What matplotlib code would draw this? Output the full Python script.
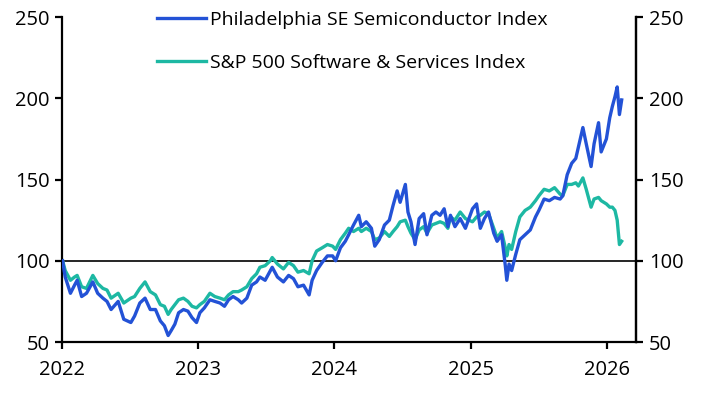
import pandas as pd
import matplotlib.pyplot as plt
import matplotlib.dates as mdates

# rebased index levels (first day of 2022 = 100)
dates = [
    "2022-01-03", "2022-01-10", "2022-01-24", "2022-02-04", "2022-02-11", "2022-02-23",
    "2022-03-08", "2022-03-25", "2022-04-07", "2022-04-21", "2022-05-02", "2022-05-13",
    "2022-06-01", "2022-06-16", "2022-07-05", "2022-07-15", "2022-07-29", "2022-08-12",
    "2022-08-26", "2022-09-09", "2022-09-22", "2022-10-03", "2022-10-13", "2022-10-21",
    "2022-10-31", "2022-11-10", "2022-11-23", "2022-12-05", "2022-12-16", "2022-12-28",
    "2023-01-06", "2023-01-18", "2023-02-02", "2023-02-15", "2023-03-01", "2023-03-13",
    "2023-03-24", "2023-04-05", "2023-04-19", "2023-04-28", "2023-05-12", "2023-05-25",
    "2023-06-07", "2023-06-16", "2023-06-30", "2023-07-14", "2023-07-19", "2023-08-02",
    "2023-08-18", "2023-09-01", "2023-09-14", "2023-09-26", "2023-10-11", "2023-10-26",
    "2023-11-03", "2023-11-15", "2023-11-30", "2023-12-14", "2023-12-28", "2024-01-05",
    "2024-01-18", "2024-01-31", "2024-02-09", "2024-02-22", "2024-03-07", "2024-03-14",
    "2024-03-27", "2024-04-10", "2024-04-19", "2024-05-01", "2024-05-15", "2024-05-28",
    "2024-06-07", "2024-06-18", "2024-06-26", "2024-07-10", "2024-07-17", "2024-07-25",
    "2024-08-05", "2024-08-16", "2024-08-28", "2024-09-06", "2024-09-19", "2024-09-30",
    "2024-10-11", "2024-10-22", "2024-11-01", "2024-11-08", "2024-11-20", "2024-12-04",
    "2024-12-18", "2025-01-06", "2025-01-17", "2025-01-27", "2025-02-07", "2025-02-18",
    "2025-03-04", "2025-03-13", "2025-03-25", "2025-04-04", "2025-04-08", "2025-04-14",
    "2025-04-21", "2025-05-02", "2025-05-13", "2025-05-27", "2025-06-10", "2025-06-24",
    "2025-07-03", "2025-07-17", "2025-07-31", "2025-08-14", "2025-08-29", "2025-09-05",
    "2025-09-17", "2025-09-29", "2025-10-10", "2025-10-17", "2025-10-29", "2025-11-07",
    "2025-11-20", "2025-11-28", "2025-12-10", "2025-12-17", "2025-12-31", "2026-01-09",
    "2026-01-16", "2026-01-23", "2026-01-29", "2026-02-04", "2026-02-10",
]

semis = [
    100, 90, 80, 85, 88, 78,
    80, 87, 80, 77, 75, 70,
    75, 64, 62, 66, 74, 77,
    70, 70, 63, 60, 54, 57,
    61, 68, 70, 69, 65, 62,
    68, 71, 76, 75, 74, 72,
    76, 78, 76, 74, 77, 85,
    87, 90, 88, 94, 96, 90,
    87, 91, 89, 84, 85, 79,
    88, 94, 99, 103, 103, 100,
    108, 112, 116, 122, 128, 121,
    124, 120, 109, 113, 122, 125,
    134, 143, 136, 147, 130, 124,
    110, 126, 129, 116, 128, 130,
    128, 132, 121, 128, 121, 126,
    120, 132, 135, 120, 126, 130,
    117, 112, 116, 97, 88, 98,
    94, 104, 113, 116, 119, 127,
    131, 138, 137, 139, 138, 140,
    153, 160, 163, 170, 182, 172,
    158, 172, 185, 167, 175, 188,
    195, 201, 207, 190, 199,
]

software = [
    100, 94, 88, 90, 91, 84,
    83, 91, 86, 83, 82, 77,
    80, 74, 77, 78, 83, 87,
    81, 79, 73, 72, 67, 70,
    73, 76, 77, 75, 72, 71,
    73, 75, 80, 78, 77, 76,
    79, 81, 81, 82, 84, 89,
    92, 96, 97, 100, 102, 98,
    95, 99, 97, 93, 94, 92,
    100, 106, 108, 110, 109, 107,
    113, 117, 120, 118, 120, 118,
    120, 118, 113, 114, 118, 115,
    118, 121, 124, 125, 121, 117,
    113, 119, 121, 117, 122, 123,
    124, 123, 120, 127, 125, 130,
    126, 124, 127, 128, 130, 129,
    120, 114, 118, 108, 103, 110,
    107, 118, 127, 131, 133, 137,
    140, 144, 143, 145, 141, 140,
    147, 147, 148, 146, 151, 144,
    133, 138, 139, 137, 135, 133,
    133, 131, 125, 110, 112,
]

labels = ["Philadelphia SE Semiconductor Index", "S&P 500 Software & Services Index"]
colors = ["#2352d6", "#1db8a3"]

if __name__ == '__main__':
    plt.rcParams['font.family'] = ['Open Sans', 'DejaVu Sans']
    x = pd.to_datetime(dates)

    fig = plt.figure(figsize=(7.03, 3.97), dpi=100)
    ax = fig.add_axes([0.088, 0.1385, 0.817, 0.8185])

    ax.axhline(100, color="black", lw=1.2, zorder=1)
    ax.plot(x, software, color=colors[1], lw=2.4, label=labels[1], zorder=2)
    ax.plot(x, semis, color=colors[0], lw=2.4, label=labels[0], zorder=3)

    ax.set_ylim(50, 250)
    ax.set_yticks([50, 100, 150, 200, 250])
    ax.set_xlim(pd.Timestamp("2022-01-01"), pd.Timestamp("2026-03-21"))
    ax.xaxis.set_major_locator(mdates.YearLocator())
    ax.xaxis.set_major_formatter(mdates.DateFormatter("%Y"))

    ax2 = ax.twinx()
    ax2.set_ylim(ax.get_ylim())
    ax2.set_yticks([50, 100, 150, 200, 250])

    for a in (ax, ax2):
        a.spines["top"].set_visible(False)
        for s in ("left", "right", "bottom"):
            a.spines[s].set_linewidth(1.6)
        a.tick_params(width=1.6, length=5, labelsize=14.5, direction="out", pad=4)
    ax.tick_params(axis="x", pad=8)
    ax2.spines["left"].set_visible(False)
    ax2.spines["bottom"].set_visible(False)

    h, l = ax.get_legend_handles_labels()
    fig.legend(h[::-1], l[::-1], loc="upper left", bbox_to_anchor=(0.218, 0.983),
               frameon=False, fontsize=14, handlelength=2.5, handletextpad=0.2,
               labelspacing=1.3, borderpad=0.2, borderaxespad=0)

    fig.savefig("out.png", dpi=100)
